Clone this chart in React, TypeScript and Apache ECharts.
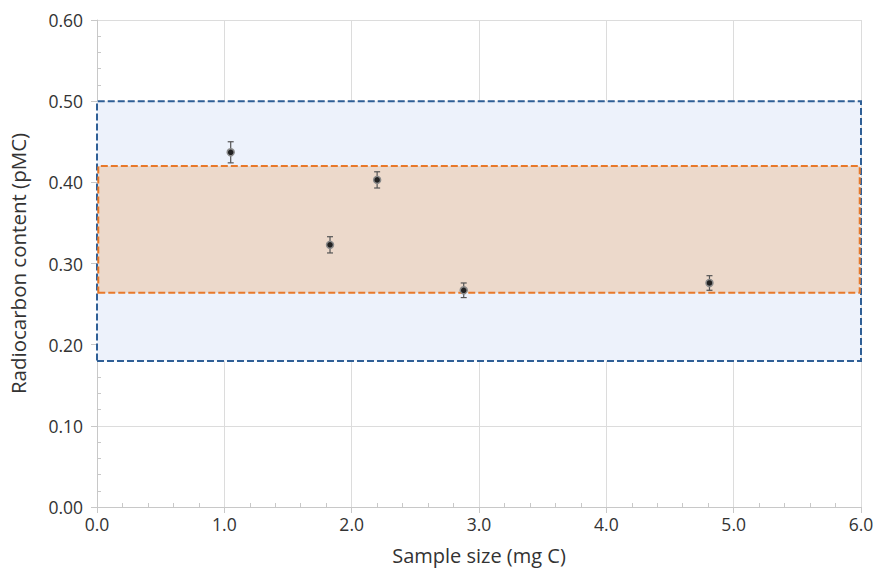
import React, { useEffect, useRef } from "react";
import * as echarts from "echarts";

const sampleSize = [1.05, 1.83, 2.2, 2.88, 4.81];
const pmc = [0.437, 0.323, 0.403, 0.267, 0.276];
const pmcErr = [0.013, 0.01, 0.01, 0.009, 0.009];
const blueRange = [0.18, 0.5];
const orangeRange = [0.264, 0.42];
const xTicks = [0, 1, 2, 3, 4, 5, 6];
const yTicks = [0, 0.1, 0.2, 0.3, 0.4, 0.5, 0.6];

export default function App() {
  const ref = useRef<HTMLDivElement>(null);
  useEffect(() => {
    const chart = echarts.init(ref.current!, null, { renderer: "svg" });
    const font = "'Open Sans', 'Noto Sans', sans-serif";
    const pts = sampleSize.map((x, i) => [x, pmc[i]]);
    const errs = sampleSize.map((x, i) => [x, pmc[i] - pmcErr[i], pmc[i] + pmcErr[i]]);
    const baseAxis = {
      min: 0,
      axisLine: { show: true, lineStyle: { color: "#c8c8c8", width: 1 } },
      splitLine: { show: true, lineStyle: { color: "#dcdcdc", width: 1 } },
      axisTick: { show: true, inside: false, length: 6, lineStyle: { color: "#c8c8c8" } },
      axisLabel: { color: "#333", fontSize: 17.5, fontFamily: font },
      nameTextStyle: { color: "#333", fontSize: 20, fontFamily: font },
    };
    const minorAxis = {
      min: 0,
      axisLine: { show: false },
      splitLine: { show: false },
      axisTick: { show: false, inside: true },
      axisLabel: { show: false },
      minorTick: { show: true, splitNumber: 5, length: 4, lineStyle: { color: "#c8c8c8" } },
    };
    chart.setOption({
      animation: false,
      grid: { left: 97, right: 12, top: 20, bottom: 65, containLabel: false, outerBoundsMode: "none" },
      xAxis: [
        {
          ...baseAxis,
          type: "value",
          max: 6,
          interval: 1,
          name: "Sample size (mg C)",
          nameLocation: "middle",
          nameGap: 38,
          axisLabel: { ...baseAxis.axisLabel, margin: 8, formatter: (v: number) => (xTicks.includes(v) ? v.toFixed(1) : "") },
        },
        { ...minorAxis, type: "value", max: 6, interval: 1, position: "bottom" },
      ],
      yAxis: [
        {
          ...baseAxis,
          type: "value",
          max: 0.6,
          interval: 0.1,
          name: "Radiocarbon content (pMC)",
          nameLocation: "middle",
          nameGap: 69,
          nameTextStyle: { ...baseAxis.nameTextStyle, fontSize: 20.5 },
          axisLabel: { ...baseAxis.axisLabel, margin: 14, formatter: (v: number) => (yTicks.some((t) => Math.abs(t - v) < 1e-9) ? v.toFixed(2) : "") },
        },
        { ...minorAxis, type: "value", max: 0.6, interval: 0.1, position: "left" },
      ],
      series: [
        {
          type: "line",
          data: [],
          z: 1,
          markArea: {
            silent: true,
            data: [
              [
                {
                  xAxis: 0,
                  yAxis: blueRange[0],
                  itemStyle: { color: "#edf2fb", borderColor: "#2f5f96", borderWidth: 2, borderType: [7, 3] },
                },
                { xAxis: 6, yAxis: blueRange[1] },
              ],
              [
                {
                  xAxis: 0.01,
                  yAxis: orangeRange[0],
                  itemStyle: { color: "#ecd9cb", borderColor: "#e8792a", borderWidth: 2, borderType: [7, 3] },
                },
                { xAxis: 5.99, yAxis: orangeRange[1] },
              ],
            ],
          },
        },
        {
          type: "custom",
          z: 3,
          data: errs,
          renderItem: (params: any, api: any) => {
            const x = api.value(0);
            const lo = api.coord([x, api.value(1)]);
            const hi = api.coord([x, api.value(2)]);
            const c = 3;
            const style = { stroke: "#555", lineWidth: 1.2 };
            return {
              type: "group",
              children: [
                { type: "line", shape: { x1: lo[0], y1: lo[1], x2: hi[0], y2: hi[1] }, style },
                { type: "line", shape: { x1: lo[0] - c, y1: lo[1], x2: lo[0] + c, y2: lo[1] }, style },
                { type: "line", shape: { x1: hi[0] - c, y1: hi[1], x2: hi[0] + c, y2: hi[1] }, style },
              ],
            };
          },
        },
        {
          type: "scatter",
          z: 4,
          data: pts,
          symbol: "circle",
          symbolSize: 7,
          itemStyle: { color: "#222", borderColor: "#8a8a8a", borderWidth: 1.5, opacity: 1 },
        },
      ],
    });
    return () => chart.dispose();
  }, []);
  return <div ref={ref} style={{ width: 873, height: 572, position: "absolute", left: 0, top: 0, background: "#fff" }} />;
}
